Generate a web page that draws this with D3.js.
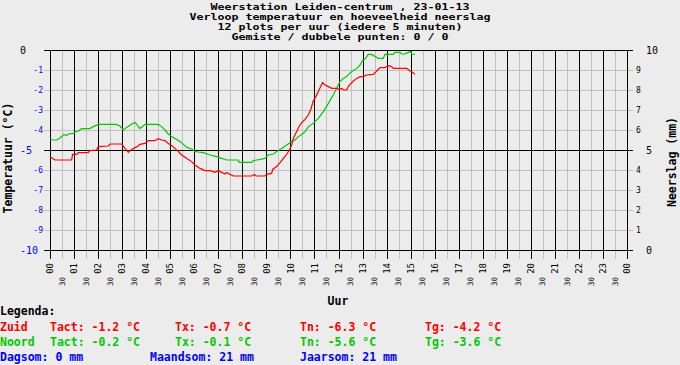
<!DOCTYPE html>
<html>
<head>
<meta charset="utf-8">
<script src="https://cdn.jsdelivr.net/npm/d3@7"></script>
<style>
  body { margin: 0; background: #ececec; }
  svg { display: block; }
  text { font-family: "DejaVu Sans Mono", "Liberation Mono", monospace; }
</style>
</head>
<body>
<svg id="chart" width="680" height="365"></svg>
<script>
// time in hours, temperature in degrees C
var zuidTime = [0, 0.11, 0.21, 0.90, 0.94, 1.11, 1.18, 1.59, 1.66, 1.94, 2.01, 2.43, 2.50, 2.98, 3.12, 3.26, 3.40, 3.54, 3.67, 3.74, 3.95, 4.09, 4.37, 4.51, 4.64, 4.78, 4.92, 5.06, 5.20, 5.34, 5.48, 5.69, 5.89, 6.03, 6.24, 6.45, 6.66, 6.86, 7.00, 7.14, 7.28, 7.35, 7.49, 7.63, 8.39, 8.49, 8.57, 8.94, 9.01, 9.22, 9.26, 9.43, 9.57, 9.71, 9.85, 9.96, 10.05, 10.12, 10.26, 10.37, 10.47, 10.61, 10.74, 10.84, 10.95, 11.06, 11.16, 11.26, 11.34, 11.44, 11.58, 11.72, 11.93, 12.03, 12.13, 12.23, 12.34, 12.41, 12.48, 12.62, 12.76, 12.90, 13.03, 13.17, 13.45, 13.59, 13.73, 13.93, 14.07, 14.21, 14.28, 14.84, 14.97, 15.04, 15.18];
var zuidTemp = [-5.33, -5.43, -5.5, -5.5, -5.22, -5.22, -5.13, -5.13, -5.03, -5.0, -4.83, -4.8, -4.7, -4.7, -4.92, -5.12, -4.97, -4.88, -4.8, -4.72, -4.67, -4.53, -4.53, -4.43, -4.5, -4.53, -4.67, -4.78, -4.92, -5.08, -5.25, -5.42, -5.58, -5.75, -5.92, -6.03, -6.03, -6.12, -6.03, -6.12, -6.2, -6.12, -6.22, -6.3, -6.3, -6.22, -6.3, -6.3, -6.22, -6.17, -5.97, -5.83, -5.63, -5.42, -5.2, -5.0, -4.75, -4.42, -4.08, -3.8, -3.63, -3.47, -3.25, -3.0, -2.55, -2.33, -2.08, -1.83, -1.63, -1.75, -1.83, -1.92, -1.92, -1.97, -1.92, -2.0, -2.0, -1.83, -1.72, -1.55, -1.42, -1.33, -1.33, -1.25, -1.22, -1.05, -0.88, -0.88, -0.78, -0.83, -0.92, -0.92, -1.05, -1.08, -1.22];

var noordTime = [0, 0.11, 0.28, 0.35, 0.49, 0.58, 0.69, 0.76, 0.97, 1.04, 1.18, 1.32, 1.66, 1.80, 2.01, 2.77, 2.91, 3.05, 3.19, 3.40, 3.54, 3.60, 3.72, 3.81, 3.95, 4.51, 4.64, 4.78, 4.92, 5.06, 5.27, 5.41, 5.55, 5.69, 5.89, 6.03, 6.17, 6.38, 6.66, 6.93, 7.14, 7.35, 7.83, 7.87, 8.39, 8.46, 8.74, 8.94, 9.08, 9.29, 9.43, 9.50, 9.64, 9.78, 9.91, 10.05, 10.19, 10.33, 10.47, 10.61, 10.75, 10.95, 11.16, 11.37, 11.58, 11.78, 11.92, 12.06, 12.20, 12.34, 12.41, 12.55, 12.76, 12.90, 12.99, 13.10, 13.24, 13.38, 13.52, 13.66, 13.86, 13.93, 14.28, 14.35, 14.56, 14.63, 14.77, 14.90, 15.00, 15.04, 15.18];
var noordTemp = [-4.45, -4.5, -4.5, -4.45, -4.33, -4.22, -4.28, -4.2, -4.17, -4.1, -4.05, -3.93, -3.93, -3.83, -3.72, -3.72, -3.8, -4.0, -3.87, -3.7, -3.62, -3.7, -3.92, -3.87, -3.72, -3.72, -3.83, -4.0, -4.2, -4.33, -4.47, -4.58, -4.72, -4.87, -4.95, -5.07, -5.1, -5.13, -5.25, -5.33, -5.42, -5.5, -5.5, -5.62, -5.62, -5.53, -5.47, -5.42, -5.25, -5.2, -5.08, -5.03, -4.92, -4.8, -4.7, -4.58, -4.5, -4.33, -4.22, -4.08, -3.83, -3.67, -3.42, -3.08, -2.67, -2.25, -1.92, -1.58, -1.42, -1.33, -1.23, -1.08, -0.92, -0.75, -0.53, -0.45, -0.22, -0.22, -0.33, -0.42, -0.42, -0.22, -0.22, -0.12, -0.12, -0.2, -0.2, -0.12, -0.08, -0.2, -0.22];

var hourTicks = d3.range(0, 25);
var halfTicks = d3.range(0.5, 24, 1);
var tempTicks = d3.range(0, -11, -1);
var rainTicks = d3.range(0, 11);

var titleLines = [
  "Weerstation Leiden-centrum , 23-01-13",
  "Verloop temperatuur en hoeveelheid neerslag",
  "12 plots per uur (iedere 5 minuten)",
  "Gemiste / dubbele punten: 0 / 0"
];

var RED = "#ff0000", GREEN = "#00c800", BLUE = "#0000ff", GRID = "#c0c0c0";

var svg = d3.select("#chart");

var x = d3.scaleLinear().domain([0, 24]).range([50, 627]);
var y = d3.scaleLinear().domain([-10, 0]).range([250, 50]);
var yRain = d3.scaleLinear().domain([0, 10]).range([250, 50]);

var grid = svg.append("g").attr("shape-rendering", "crispEdges");

// horizontal grid lines
grid.selectAll(".hline")
  .data(tempTicks)
  .enter().append("line")
  .attr("x1", 44)
  .attr("x2", 633)
  .attr("y1", function(d) { return Math.round(y(d)) + 0.5; })
  .attr("y2", function(d) { return Math.round(y(d)) + 0.5; })
  .attr("stroke", GRID);

// vertical lines: hours black, half hours grey
grid.selectAll(".half")
  .data(halfTicks)
  .enter().append("line")
  .attr("x1", function(d) { return Math.round(x(d)) + 0.5; })
  .attr("x2", function(d) { return Math.round(x(d)) + 0.5; })
  .attr("y1", 50)
  .attr("y2", 259)
  .attr("stroke", GRID);

grid.selectAll(".hour")
  .data(hourTicks)
  .enter().append("line")
  .attr("x1", function(d) { return Math.round(x(d)) + 0.5; })
  .attr("x2", function(d) { return Math.round(x(d)) + 0.5; })
  .attr("y1", 50)
  .attr("y2", 259)
  .attr("stroke", "#000");

// 0, -5 and -10 black on top
grid.selectAll(".hline5")
  .data(tempTicks.filter(function(d) { return d % 5 == 0; }))
  .enter().append("line")
  .attr("x1", 44)
  .attr("x2", 633)
  .attr("y1", function(d) { return Math.round(y(d)) + 0.5; })
  .attr("y2", function(d) { return Math.round(y(d)) + 0.5; })
  .attr("stroke", "#000");

// data lines
var line = d3.line()
  .x(function(d) { return x(d[0]); })
  .y(function(d) { return y(d[1]); });

svg.append("path")
  .datum(d3.zip(noordTime, noordTemp))
  .attr("d", line)
  .attr("fill", "none")
  .attr("stroke", GREEN)
  .attr("stroke-width", 1.2);

svg.append("path")
  .datum(d3.zip(zuidTime, zuidTemp))
  .attr("d", line)
  .attr("fill", "none")
  .attr("stroke", RED)
  .attr("stroke-width", 1.2);

// left axis labels
svg.selectAll(".tl")
  .data(tempTicks)
  .enter().append("text")
  .attr("x", function(d) { return (d % 5 == 0) ? 20 : 43; })
  .attr("y", function(d) { return y(d); })
  .attr("dy", "0.35em")
  .attr("text-anchor", function(d) { return (d % 5 == 0) ? "start" : "end"; })
  .style("font-size", function(d) { return (d % 5 == 0) ? "10px" : "8px"; })
  .attr("fill", function(d) { return d == 0 ? "#000" : BLUE; })
  .text(function(d) { return d; });

// right axis labels
svg.selectAll(".tr")
  .data(rainTicks)
  .enter().append("text")
  .attr("x", function(d) { return (d % 5 == 0) ? 646 : 636; })
  .attr("y", function(d) { return yRain(d); })
  .attr("dy", "0.35em")
  .style("font-size", function(d) { return (d % 5 == 0) ? "10px" : "8px"; })
  .attr("fill", "#000")
  .text(function(d) { return d; });

// x labels, rotated
svg.selectAll(".xh")
  .data(hourTicks)
  .enter().append("text")
  .attr("transform", function(d) { return "translate(" + x(d) + ",263) rotate(-90)"; })
  .attr("dy", "0.35em")
  .attr("text-anchor", "end")
  .style("font-size", "9px")
  .text(function(d) { return d3.format("02d")(d % 24); });

svg.selectAll(".xm")
  .data(halfTicks)
  .enter().append("text")
  .attr("transform", function(d) { return "translate(" + x(d) + ",277) rotate(-90)"; })
  .attr("dy", "0.35em")
  .attr("text-anchor", "end")
  .style("font-size", "7.5px")
  .text("30");

// titles, stretched to the 7px per char of the original
svg.selectAll(".title")
  .data(titleLines)
  .enter().append("text")
  .attr("x", 340)
  .attr("y", function(d, i) { return 10 + i * 10; })
  .attr("text-anchor", "middle")
  .attr("textLength", function(d) { return d.length * 7; })
  .attr("lengthAdjust", "spacingAndGlyphs")
  .style("font-size", "8.5px")
  .style("font-weight", "bold")
  .text(function(d) { return d; });

svg.append("text")
  .attr("transform", "translate(12,158) rotate(-90)")
  .attr("text-anchor", "middle")
  .style("font-size", "11.5px")
  .style("font-weight", "bold")
  .text("Temperatuur (°C)");

svg.append("text")
  .attr("transform", "translate(676,162) rotate(-90)")
  .attr("text-anchor", "middle")
  .style("font-size", "11.5px")
  .style("font-weight", "bold")
  .text("Neerslag (mm)");

svg.append("text")
  .attr("x", 338)
  .attr("y", 305)
  .attr("text-anchor", "middle")
  .style("font-size", "11.5px")
  .style("font-weight", "bold")
  .text("Uur");

// legend
var legend = [
  {x: 0, y: 315, c: "#000", t: "Legenda:"},
  {x: 0, y: 331, c: RED, t: "Zuid"},
  {x: 50, y: 331, c: RED, t: "Tact: -1.2 °C"},
  {x: 175, y: 331, c: RED, t: "Tx: -0.7 °C"},
  {x: 300, y: 331, c: RED, t: "Tn: -6.3 °C"},
  {x: 425, y: 331, c: RED, t: "Tg: -4.2 °C"},
  {x: 0, y: 346, c: GREEN, t: "Noord"},
  {x: 50, y: 346, c: GREEN, t: "Tact: -0.2 °C"},
  {x: 175, y: 346, c: GREEN, t: "Tx: -0.1 °C"},
  {x: 300, y: 346, c: GREEN, t: "Tn: -5.6 °C"},
  {x: 425, y: 346, c: GREEN, t: "Tg: -3.6 °C"},
  {x: 0, y: 361, c: BLUE, t: "Dagsom: 0 mm"},
  {x: 150, y: 361, c: BLUE, t: "Maandsom: 21 mm"},
  {x: 300, y: 361, c: BLUE, t: "Jaarsom: 21 mm"}
];

svg.selectAll(".leg")
  .data(legend)
  .enter().append("text")
  .attr("x", function(d) { return d.x; })
  .attr("y", function(d) { return d.y; })
  .attr("fill", function(d) { return d.c; })
  .style("font-size", "11.5px")
  .style("font-weight", "bold")
  .style("white-space", "pre")
  .text(function(d) { return d.t; });
</script>
</body>
</html>
